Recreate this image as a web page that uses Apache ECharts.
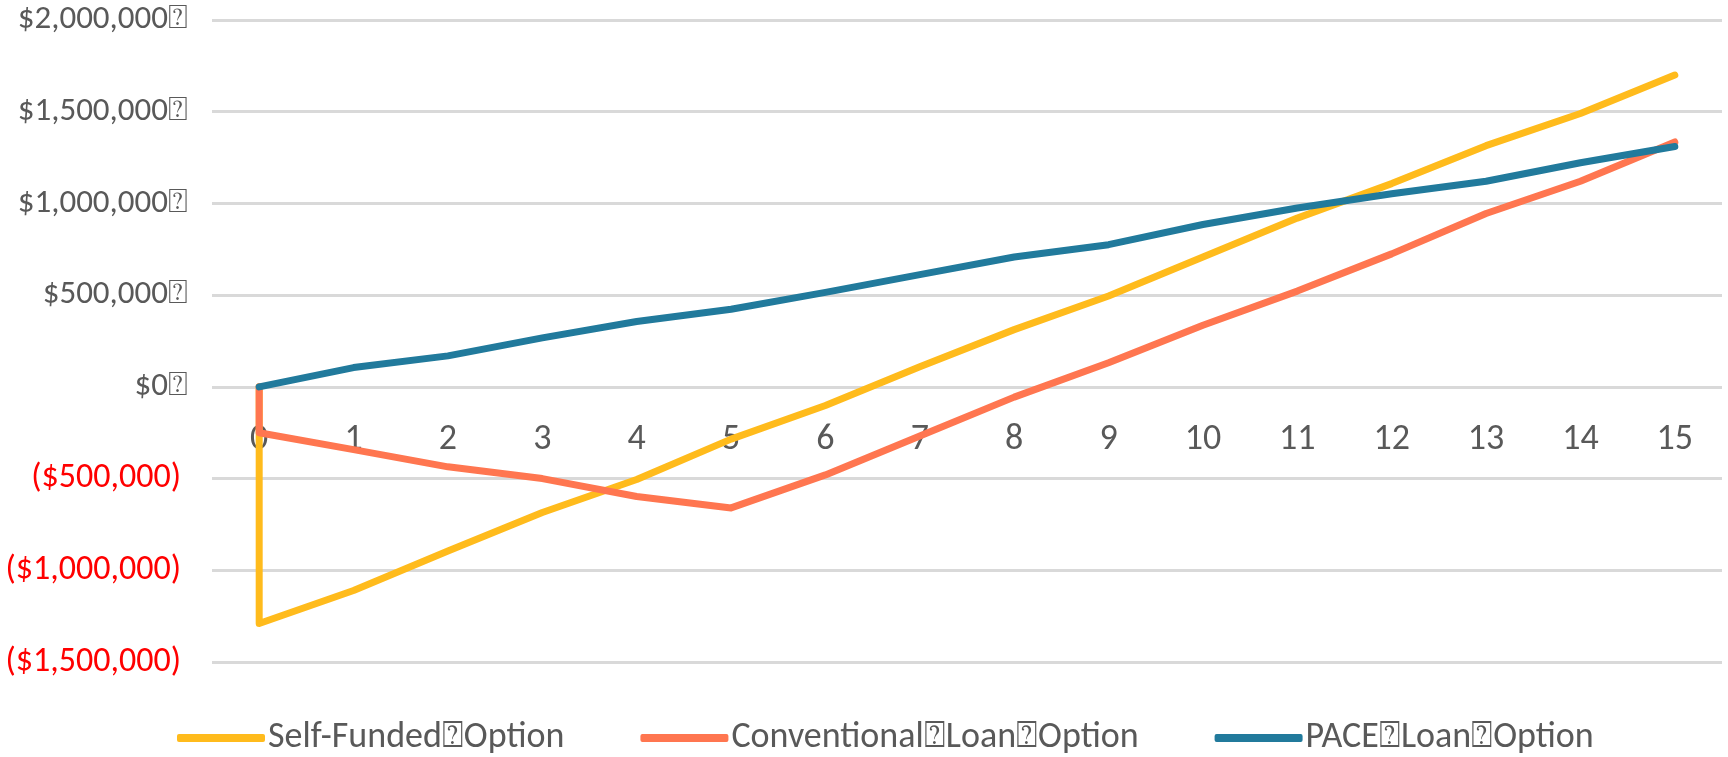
<!DOCTYPE html>
<html>
<head>
<meta charset="utf-8">
<script src="https://cdn.jsdelivr.net/npm/echarts@6/dist/echarts.min.js"></script>
<style>
  html, body { margin: 0; padding: 0; background: #ffffff; }
  #chart { width: 1728px; height: 757px; }
</style>
</head>
<body>
<div id="chart"></div>
<script>
// ---- data ----
const categories = ['0','1','2','3','4','5','6','7','8','9','10','11','12','13','14','15'];
const seriesNames = ['Self-Funded\u2370Option', 'Conventional\u2370Loan\u2370Option', 'PACE\u2370Loan\u2370Option'];
// value drawn at year 0 before the year-0 result (vertical start segment)
const selfFundedStart = 0;
const conventionalStart = 0;
const selfFunded = [-1290000, -1110000, -895000, -685000, -505000, -285000, -102000, 110000, 312000, 495000, 708000, 920000, 1108000, 1315000, 1490000, 1700000];
const conventional = [-250000, -342000, -436000, -500000, -598000, -660000, -480000, -268000, -56000, 131000, 336000, 522000, 725000, 945000, 1121000, 1335000];
const pace = [0, 105000, 169000, 267000, 356000, 423000, 515000, 612000, 708000, 775000, 885000, 975000, 1053000, 1121000, 1222000, 1310000];
const yMin = -1500000, yMax = 2000000, yStep = 500000;

const colors = ['#FFBB1C', '#FF7650', '#217A9C'];
const FONT = 'Carlito, Lato, "DejaVu Sans", sans-serif';

const W = 1728, H = 757;
const GRID = { left: 212, right: 6, top: 20, bottom: 95 };
// place the category axis on the y = 0 line (as in the reference)
const gridH = H - GRID.top - GRID.bottom;
const zeroOffset = -gridH * (0 - yMin) / (yMax - yMin);

function withStart(start, values) {
  const out = [];
  if (start !== null) out.push([0, start]);
  values.forEach((v, i) => out.push([i, v]));
  return out;
}
function money(v) {
  return '$' + Math.abs(v).toString().replace(/\B(?=(\d{3})+(?!\d))/g, ',');
}

const chart = echarts.init(document.getElementById('chart'), null, { renderer: 'canvas', width: W, height: H });
const lineCommon = {
  type: 'line',
  showSymbol: false,
  symbol: 'none',
  smooth: false,
  animation: false
};
chart.setOption({
  animation: false,
  backgroundColor: '#ffffff',
  color: colors,
  grid: Object.assign({ containLabel: false }, GRID),
  legend: {
    left: 172,
    top: 715,
    itemWidth: 88,
    itemHeight: 8,
    itemGap: 76,
    icon: 'roundRect',
    textStyle: { fontFamily: FONT, fontSize: 36, color: '#595959', padding: [0, 0, 0, -2] },
    data: seriesNames
  },
  xAxis: {
    type: 'category',
    data: categories,
    boundaryGap: true,
    position: 'bottom',
    offset: zeroOffset,
    z: 1,
    axisLine: { show: false, onZero: false },
    axisTick: { show: false },
    splitLine: { show: false },
    axisLabel: { fontFamily: FONT, fontSize: 36, color: '#595959', margin: 35 }
  },
  yAxis: {
    type: 'value',
    min: yMin,
    max: yMax,
    interval: yStep,
    axisLine: { show: false },
    axisTick: { show: false },
    splitLine: { show: true, lineStyle: { color: '#D9D9D9', width: 3 } },
    axisLabel: {
      fontFamily: FONT,
      fontSize: 33,
      margin: 24,
      color: '#595959',
      formatter: function (v) { return v < 0 ? '{neg|(' + money(v) + ')}' : money(v) + '\u2370'; },
      rich: {
        neg: { fontFamily: FONT, fontSize: 34, color: '#FF0000', padding: [0, 7, 0, 0] }
      }
    }
  },
  series: [
    Object.assign({}, lineCommon, { name: seriesNames[0], data: withStart(selfFundedStart, selfFunded), z: 3,
      lineStyle: { color: colors[0], width: 7, cap: 'round', join: 'round' }, itemStyle: { color: colors[0] } }),
    Object.assign({}, lineCommon, { name: seriesNames[1], data: withStart(conventionalStart, conventional), z: 4,
      lineStyle: { color: colors[1], width: 7, cap: 'round', join: 'round' }, itemStyle: { color: colors[1] } }),
    Object.assign({}, lineCommon, { name: seriesNames[2], data: withStart(null, pace), z: 5,
      lineStyle: { color: colors[2], width: 7, cap: 'round', join: 'round' }, itemStyle: { color: colors[2] } })
  ]
});
</script>
</body>
</html>
